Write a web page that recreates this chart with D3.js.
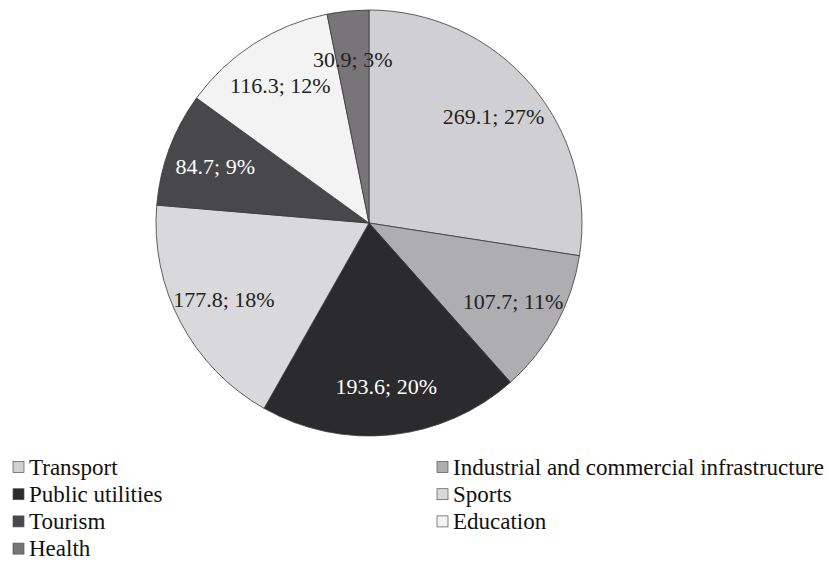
<!DOCTYPE html>
<html>
<head>
<meta charset="utf-8">
<script src="https://cdn.jsdelivr.net/npm/d3@7"></script>
<style>
  html, body { margin: 0; padding: 0; background: #fff; }
  svg text { font-family: "Liberation Serif", "DejaVu Serif", "Times New Roman", serif; font-size: 22px; }
  svg g.legend text { font-size: 23px; }
</style>
</head>
<body>
<div id="chart"></div>
<script>
// data
const categories = ["Transport", "Industrial and commercial infrastructure", "Public utilities",
    "Sports", "Tourism", "Education", "Health"];
const values = [269.1, 107.7, 193.6, 177.8, 84.7, 116.3, 30.9];
const percents = ["27%", "11%", "20%", "18%", "9%", "12%", "3%"];
const fills = ["#d0d0d2", "#aeadb0", "#2b2a2c", "#d9d9db", "#48484a", "#f2f3f2", "#777577"];
const labelColors = ["#222", "#222", "#fff", "#222", "#fff", "#222", "#222"];

const width = 828, height = 563;
const cx = 369, cy = 223, R = 213;

const svg = d3.select("#chart")
    .append("svg")
    .attr("width", width)
    .attr("height", height);

const data = categories.map((c, i) => ({ name: c, value: values[i], pct: percents[i], i }));

const pie = d3.pie().sort(null).value(d => d.value);
const arcs = pie(data);
const arc = d3.arc().innerRadius(0).outerRadius(R);
const labelArc = d3.arc().innerRadius(R * 0.77).outerRadius(R * 0.77);

const g = svg.append("g").attr("transform", `translate(${cx},${cy})`);

g.selectAll("path")
    .data(arcs)
    .enter()
    .append("path")
    .attr("d", arc)
    .attr("fill", d => fills[d.data.i])
    .attr("stroke", "#3a3a3a")
    .attr("stroke-width", 0.8);

g.selectAll("text.label")
    .data(arcs)
    .enter()
    .append("text")
    .attr("class", "label")
    .attr("transform", d => `translate(${labelArc.centroid(d)})`)
    .attr("text-anchor", "middle")
    .attr("dy", "0.35em")
    .attr("fill", d => labelColors[d.data.i])
    .text(d => `${d.data.value}; ${d.data.pct}`);

// legend, two columns, row-major
const colX = [13, 437];
const rowY0 = 467, rowStep = 27.2, sq = 11;

const legend = svg.selectAll("g.legend")
    .data(data)
    .enter()
    .append("g")
    .attr("class", "legend")
    .attr("transform", (d, i) => `translate(${colX[i % 2]},${rowY0 + Math.floor(i / 2) * rowStep})`);

legend.append("rect")
    .attr("x", 0)
    .attr("y", -sq / 2)
    .attr("width", sq)
    .attr("height", sq)
    .attr("fill", d => fills[d.i])
    .attr("stroke", "#555")
    .attr("stroke-width", 0.7);

legend.append("text")
    .attr("x", sq + 5)
    .attr("y", 0)
    .attr("dy", "0.33em")
    .attr("fill", "#111")
    .text(d => d.name);
</script>
</body>
</html>
